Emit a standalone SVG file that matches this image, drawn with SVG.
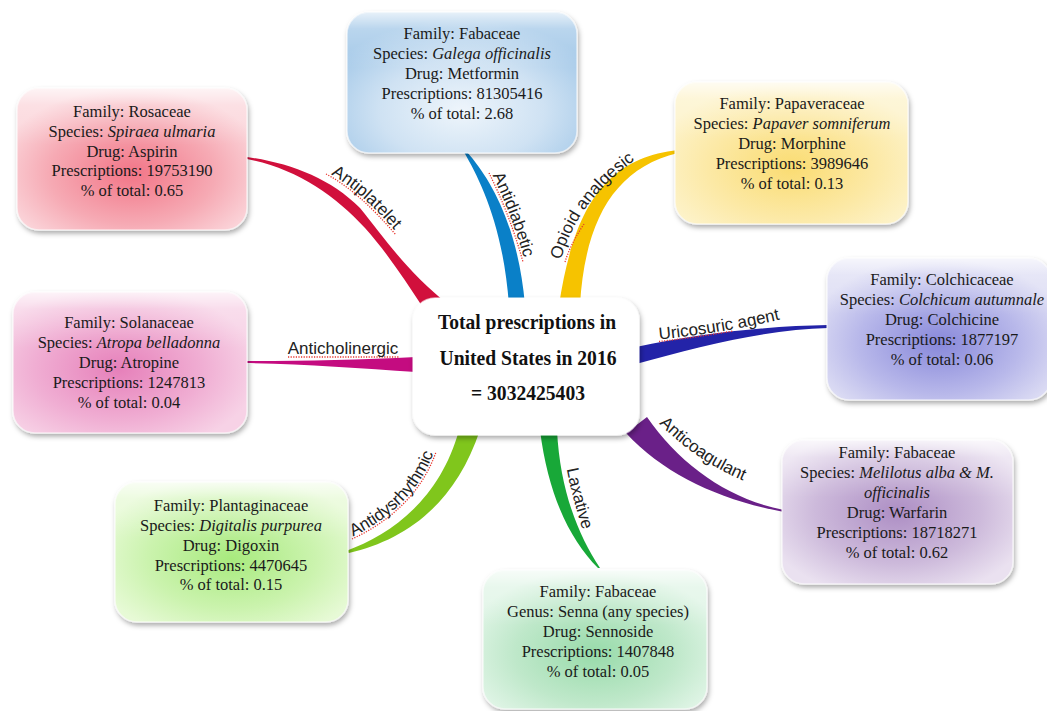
<svg xmlns="http://www.w3.org/2000/svg" width="1047" height="711" viewBox="0 0 1047 711">
<defs>
<style>
.node text{font-family:"Liberation Serif","Times New Roman",serif;font-size:16.5px;fill:#1a1a1a;text-anchor:middle}
.it{font-style:italic}
.ctr text{font-family:"Liberation Serif","Times New Roman",serif;font-size:22px;font-weight:bold;fill:#111;text-anchor:middle}
.lbl{font-family:"Liberation Sans",Arial,sans-serif;font-size:17px;fill:#222;text-anchor:middle}
.dots{fill:none;stroke:#e8342c;stroke-width:1.3;stroke-dasharray:1.2 1.4}
.box{filter:url(#sh);stroke:#fff;stroke-opacity:.6;stroke-width:1.5}
.gloss{fill:url(#gl);pointer-events:none}
</style>
<filter id="sh" x="-10%" y="-10%" width="125%" height="135%">
<feDropShadow dx="1.5" dy="3" stdDeviation="2.5" flood-color="#000" flood-opacity="0.33"/>
</filter>
<linearGradient id="gl" x1="0" y1="0" x2="0" y2="1">
<stop offset="0" stop-color="#fff" stop-opacity="0.75"/>
<stop offset="0.12" stop-color="#fff" stop-opacity="0.25"/>
<stop offset="0.4" stop-color="#fff" stop-opacity="0"/>
</linearGradient>
<radialGradient id="g-rosa" cx="0.5" cy="0.6" r="0.6"><stop offset="0" stop-color="#F27587"/><stop offset="0.6" stop-color="#F6AAB4"/><stop offset="1" stop-color="#FBD6DB"/></radialGradient>
<radialGradient id="g-blue" cx="0.5" cy="0.7" r="0.65"><stop offset="0" stop-color="#EEF5FB"/><stop offset="0.55" stop-color="#CFE2F3"/><stop offset="1" stop-color="#A3C8E8"/></radialGradient>
<radialGradient id="g-yel" cx="0.5" cy="0.6" r="0.6"><stop offset="0" stop-color="#FADC72"/><stop offset="0.6" stop-color="#FCE9A6"/><stop offset="1" stop-color="#FDF3CB"/></radialGradient>
<radialGradient id="g-col" cx="0.5" cy="0.6" r="0.6"><stop offset="0" stop-color="#8888DA"/><stop offset="0.6" stop-color="#B8B8EA"/><stop offset="1" stop-color="#DEDEF4"/></radialGradient>
<radialGradient id="g-sol" cx="0.45" cy="0.55" r="0.6"><stop offset="0" stop-color="#E680BA"/><stop offset="0.6" stop-color="#F0AED3"/><stop offset="1" stop-color="#F7D2E6"/></radialGradient>
<radialGradient id="g-pla" cx="0.5" cy="0.55" r="0.6"><stop offset="0" stop-color="#A8EA7E"/><stop offset="0.6" stop-color="#CBF3AE"/><stop offset="1" stop-color="#E7FAD6"/></radialGradient>
<radialGradient id="g-sen" cx="0.5" cy="0.6" r="0.6"><stop offset="0" stop-color="#98DBAA"/><stop offset="0.6" stop-color="#BFE8CA"/><stop offset="1" stop-color="#E1F5E7"/></radialGradient>
<radialGradient id="g-mel" cx="0.5" cy="0.5" r="0.6"><stop offset="0" stop-color="#AD8EC4"/><stop offset="0.6" stop-color="#CDBADB"/><stop offset="1" stop-color="#EAE1F0"/></radialGradient>
<path id="lp1" d="M 326,174 C 349,186 372,207 396,235"/>
<path id="lp2" d="M 489,173 C 501,197 513,226 523,262"/>
<path id="lp3" d="M 560,272 C 568,232 592,190 646,155"/>
<path id="lp4" d="M 653,342 Q 720,336 787,320"/>
<path id="lp6" d="M 352,539 C 387,523 421,495 436,452"/>
<path id="lp7" d="M 563,460 Q 570,500 584,540"/>
<path id="lp8" d="M 655,422 C 680,448 708,468 746,484"/>
</defs>

<rect width="1047" height="711" fill="#fff"/>

<g id="connectors">
<path id="c-antiplatelet" fill="#D1103C" d="M 247,157 C 290,163 330,178 360,208 C 383,236 405,270 450,306 L 422,306 C 405,280 385,250 365,228 C 335,195 295,168 247,159 Z"/>
<path id="c-antidiabetic" fill="#0A80C8" d="M 464,152 C 480,180 503,225 509,305 L 525,305 C 518,225 490,178 467,152 Z"/>
<path id="c-opioid" fill="#F6C300" d="M 678,150 C 610,158 575,200 559,305 L 580,305 C 585,220 615,168 678,153 Z"/>
<path id="c-uricosuric" fill="#2323A8" d="M 828,325 C 770,326 700,333 636,347 L 636,364 C 700,346 770,329 828,328 Z"/>
<path id="c-anticholinergic" fill="#C40C80" d="M 245,361 C 300,361 360,360 416,357 L 416,372 C 360,368 300,364 245,363 Z"/>
<path id="c-antidysrhythmic" fill="#80C61C" d="M 346,551 C 390,535 440,500 459,430 L 480,430 C 455,505 405,540 349,553 Z"/>
<path id="c-laxative" fill="#18A838" d="M 540,430 C 548,495 570,540 598,568 L 600,568 C 578,535 560,490 557,430 Z"/>
<path id="c-anticoagulant" fill="#6A2088" d="M 626,433 C 665,475 720,500 784,512 L 784,510 C 730,500 680,465 647,417 Z"/>

<use href="#lp1" class="dots"/>
<use href="#lp2" class="dots"/>
<path class="dots" d="M 565,262 Q 571,243 584,224"/>
<path class="dots" d="M 659,341.5 Q 695,337.5 733,331"/>
<path class="dots" d="M 288,357 L 399,357"/>
<use href="#lp6" class="dots"/>

<text class="lbl" dy="-2"><textPath href="#lp1" startOffset="50%">Antiplatelet</textPath></text>
<text class="lbl" dy="-2"><textPath href="#lp2" startOffset="50%">Antidiabetic</textPath></text>
<text class="lbl" dy="-2"><textPath href="#lp3" startOffset="50%">Opioid analgesic</textPath></text>
<text class="lbl" dy="-2"><textPath href="#lp4" startOffset="50%">Uricosuric agent</textPath></text>
<text class="lbl" x="343" y="354">Anticholinergic</text>
<text class="lbl" dy="-2"><textPath href="#lp6" startOffset="50%">Antidysrhythmic</textPath></text>
<text class="lbl" dy="-2"><textPath href="#lp7" startOffset="50%">Laxative</textPath></text>
<text class="lbl" dy="-2"><textPath href="#lp8" startOffset="50%">Anticoagulant</textPath></text>
</g>

<g id="n-rosaceae" class="node">
<rect class="box" x="17" y="88" width="230" height="142" rx="22" fill="url(#g-rosa)"/>
<rect class="gloss" x="17" y="88" width="230" height="142" rx="22"/>
<text x="132" y="117">Family: Rosaceae</text>
<text x="132" y="137">Species: <tspan class="it">Spiraea ulmaria</tspan></text>
<text x="132" y="157">Drug: Aspirin</text>
<text x="132" y="176">Prescriptions: 19753190</text>
<text x="132" y="196">% of total: 0.65</text>
</g>

<g id="n-fabaceae-galega" class="node">
<rect class="box" x="347" y="12" width="230" height="141" rx="22" fill="url(#g-blue)"/>
<rect class="gloss" x="347" y="12" width="230" height="141" rx="22"/>
<text x="462" y="39">Family: Fabaceae</text>
<text x="462" y="59">Species: <tspan class="it">Galega officinalis</tspan></text>
<text x="462" y="79">Drug: Metformin</text>
<text x="462" y="99">Prescriptions: 81305416</text>
<text x="462" y="119">% of total: 2.68</text>
</g>

<g id="n-papaveraceae" class="node">
<rect class="box" x="675" y="82" width="233" height="142" rx="22" fill="url(#g-yel)"/>
<rect class="gloss" x="675" y="82" width="233" height="142" rx="22"/>
<text x="792" y="109">Family: Papaveraceae</text>
<text x="792" y="129">Species: <tspan class="it">Papaver somniferum</tspan></text>
<text x="792" y="149">Drug: Morphine</text>
<text x="792" y="169">Prescriptions: 3989646</text>
<text x="792" y="189">% of total: 0.13</text>
</g>

<g id="n-colchicaceae" class="node">
<rect class="box" x="827" y="258" width="224" height="142" rx="22" fill="url(#g-col)"/>
<rect class="gloss" x="827" y="258" width="224" height="142" rx="22"/>
<text x="942" y="285">Family: Colchicaceae</text>
<text x="942" y="305">Species: <tspan class="it">Colchicum autumnale</tspan></text>
<text x="942" y="325">Drug: Colchicine</text>
<text x="942" y="345">Prescriptions: 1877197</text>
<text x="942" y="365">% of total: 0.06</text>
</g>

<g id="n-solanaceae" class="node">
<rect class="box" x="13" y="292" width="234" height="141" rx="22" fill="url(#g-sol)"/>
<rect class="gloss" x="13" y="292" width="234" height="141" rx="22"/>
<text x="129" y="328">Family: Solanaceae</text>
<text x="129" y="348">Species: <tspan class="it">Atropa belladonna</tspan></text>
<text x="129" y="368">Drug: Atropine</text>
<text x="129" y="388">Prescriptions: 1247813</text>
<text x="129" y="408">% of total: 0.04</text>
</g>

<g id="n-center" class="ctr">
<rect class="box" x="413" y="298" width="226" height="137" rx="22" fill="#fff" stroke="#eee"/>
<text x="527" y="329" textLength="178" lengthAdjust="spacingAndGlyphs">Total prescriptions in</text>
<text x="528" y="365" textLength="177" lengthAdjust="spacingAndGlyphs">United States in 2016</text>
<text x="528" y="400" textLength="114" lengthAdjust="spacingAndGlyphs">= 3032425403</text>
</g>

<g id="n-plantaginaceae" class="node">
<rect class="box" x="115" y="482" width="233" height="140" rx="22" fill="url(#g-pla)"/>
<rect class="gloss" x="115" y="482" width="233" height="140" rx="22"/>
<text x="231" y="511">Family: Plantaginaceae</text>
<text x="231" y="531">Species: <tspan class="it">Digitalis purpurea</tspan></text>
<text x="231" y="551">Drug: Digoxin</text>
<text x="231" y="571">Prescriptions: 4470645</text>
<text x="231" y="590">% of total: 0.15</text>
</g>

<g id="n-fabaceae-senna" class="node">
<rect class="box" x="483" y="570" width="224" height="139" rx="22" fill="url(#g-sen)"/>
<rect class="gloss" x="483" y="570" width="224" height="139" rx="22"/>
<text x="598" y="597">Family: Fabaceae</text>
<text x="598" y="617">Genus: Senna (any species)</text>
<text x="598" y="637">Drug: Sennoside</text>
<text x="598" y="657">Prescriptions: 1407848</text>
<text x="598" y="677">% of total: 0.05</text>
</g>

<g id="n-fabaceae-melilotus" class="node">
<rect class="box" x="782" y="440" width="231" height="144" rx="22" fill="url(#g-mel)"/>
<rect class="gloss" x="782" y="440" width="231" height="144" rx="22"/>
<text x="897" y="458">Family: Fabaceae</text>
<text x="897" y="478">Species: <tspan class="it">Melilotus alba &amp;  M.</tspan></text>
<text x="897" y="498" class="it">officinalis</text>
<text x="897" y="518">Drug: Warfarin</text>
<text x="897" y="538">Prescriptions: 18718271</text>
<text x="897" y="558">% of total: 0.62</text>
</g>
</svg>
